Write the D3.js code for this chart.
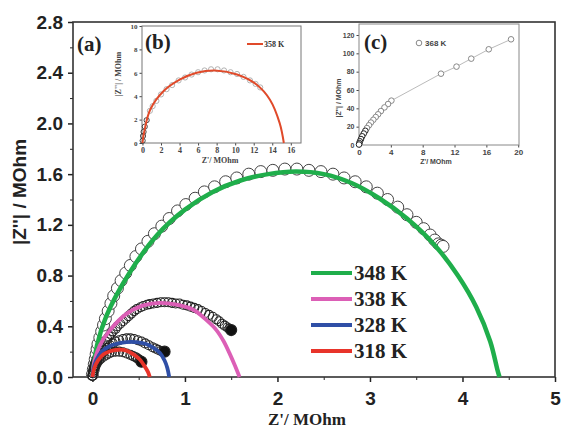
<!DOCTYPE html>
<html>
<head>
<meta charset="utf-8">
<script src="https://cdn.jsdelivr.net/npm/d3@7"></script>
<style>
  body { margin: 0; background: #fff; }
  svg { display: block; }
</style>
</head>
<body>
<script>
// ---- data ----
const temps = ["348 K", "338 K", "328 K", "318 K"];
const xTicks = [0, 1, 2, 3, 4, 5];
const xMinor = [0.5, 1.5, 2.5, 3.5, 4.5];
const yTicks = [0, 0.4, 0.8, 1.2, 1.6, 2.0, 2.4, 2.8];
const yMinor = [0.2, 0.6, 1.0, 1.4, 1.8, 2.2, 2.6];

// fitted curves
const fit348 = [[0,0],[0.05,0.25],[0.15,0.48],[0.4,0.82],[0.7,1.12],[1.0,1.32],[1.3,1.46],[1.6,1.55],[1.9,1.60],[2.2,1.62],[2.5,1.60],[2.8,1.53],[3.1,1.41],[3.4,1.25],[3.7,1.04],[3.95,0.80],[4.15,0.55],[4.3,0.28],[4.38,0.05],[4.40,0]];
const fit338 = [[0,0],[0.02,0.12],[0.08,0.25],[0.19,0.37],[0.37,0.50],[0.55,0.565],[0.73,0.585],[0.91,0.57],[1.09,0.53],[1.23,0.45],[1.34,0.37],[1.42,0.28],[1.48,0.19],[1.54,0.09],[1.59,0]];
const fit328 = [[0,0],[0.01,0.06],[0.04,0.13],[0.10,0.20],[0.19,0.245],[0.28,0.265],[0.37,0.275],[0.47,0.275],[0.58,0.26],[0.66,0.23],[0.73,0.19],[0.78,0.13],[0.81,0.07],[0.83,0]];
const fit318 = [[0,0],[0.02,0.07],[0.06,0.13],[0.12,0.18],[0.20,0.205],[0.28,0.215],[0.36,0.21],[0.44,0.18],[0.51,0.14],[0.56,0.09],[0.60,0.04],[0.62,0]];

// measured points
const pts348 = [[0.0,0.02],[0.01,0.06],[0.02,0.10],[0.03,0.14],[0.04,0.18],[0.05,0.22],[0.06,0.26],[0.08,0.31],[0.10,0.36],[0.12,0.41],[0.14,0.46],[0.17,0.52],[0.20,0.58],[0.23,0.64],[0.27,0.70],[0.31,0.76],[0.36,0.82],[0.41,0.88],[0.47,0.95],[0.53,1.01],[0.60,1.07],[0.67,1.13],[0.75,1.19],[0.83,1.25],[0.92,1.31],[1.01,1.36],[1.11,1.41],[1.21,1.46],[1.32,1.50],[1.44,1.54],[1.56,1.57],[1.69,1.60],[1.82,1.62],[1.95,1.63],[2.08,1.64],[2.21,1.64],[2.34,1.63],[2.47,1.62],[2.60,1.60],[2.72,1.57],[2.84,1.54],[2.96,1.50],[3.08,1.45],[3.19,1.40],[3.30,1.34],[3.40,1.28],[3.50,1.22],[3.58,1.17],[3.65,1.12],[3.70,1.08],[3.74,1.05],[3.77,1.04],[3.79,1.03]];
const pts338 = [[0.0,0.01],[0.005,0.03],[0.01,0.05],[0.015,0.07],[0.02,0.09],[0.03,0.11],[0.04,0.13],[0.05,0.15],[0.06,0.17],[0.07,0.19],[0.09,0.21],[0.10,0.23],[0.12,0.25],[0.14,0.28],[0.16,0.30],[0.18,0.32],[0.20,0.34],[0.22,0.36],[0.25,0.38],[0.27,0.40],[0.30,0.42],[0.33,0.44],[0.36,0.46],[0.39,0.48],[0.42,0.50],[0.45,0.52],[0.48,0.535],[0.52,0.55],[0.55,0.56],[0.59,0.57],[0.62,0.575],[0.66,0.58],[0.70,0.585],[0.74,0.59],[0.78,0.59],[0.82,0.59],[0.86,0.585],[0.90,0.58],[0.94,0.58],[0.98,0.57],[1.02,0.565],[1.06,0.555],[1.10,0.545],[1.14,0.535],[1.18,0.52],[1.22,0.505],[1.26,0.49],[1.30,0.475],[1.34,0.455],[1.37,0.44],[1.40,0.42],[1.43,0.405],[1.46,0.39],[1.48,0.38],[1.50,0.37]];
const pts328 = [[0,0.01],[0.005,0.03],[0.01,0.05],[0.02,0.07],[0.03,0.09],[0.04,0.11],[0.05,0.13],[0.07,0.15],[0.09,0.17],[0.11,0.19],[0.13,0.21],[0.16,0.23],[0.19,0.25],[0.22,0.265],[0.25,0.28],[0.29,0.29],[0.33,0.30],[0.37,0.305],[0.41,0.305],[0.45,0.30],[0.49,0.29],[0.53,0.28],[0.57,0.265],[0.61,0.25],[0.65,0.235],[0.68,0.225],[0.71,0.215],[0.74,0.205],[0.76,0.20],[0.78,0.20]];
const pts318 = [[0,0.01],[0.005,0.03],[0.01,0.05],[0.02,0.07],[0.035,0.09],[0.05,0.11],[0.07,0.13],[0.09,0.145],[0.12,0.16],[0.15,0.175],[0.18,0.185],[0.21,0.195],[0.25,0.20],[0.29,0.20],[0.33,0.195],[0.37,0.185],[0.41,0.175],[0.44,0.165],[0.47,0.155],[0.49,0.145],[0.51,0.135],[0.53,0.12]];

// inset (b), 358 K
const bXTicks = [0, 2, 4, 6, 8, 10, 12, 14, 16];
const bYTicks = [0, 2, 4, 6, 8, 10];
const fit358 = [[0,0],[0.2,1.0],[0.83,2.84],[2.26,4.42],[4.06,5.43],[5.85,6.0],[7.8,6.2],[10.2,5.86],[12.3,5.0],[13.75,3.7],[14.8,1.7],[15.25,0]];
const pts358 = [[0.02,0.2],[0.06,0.6],[0.12,0.95],[0.25,1.4],[0.45,1.95],[0.8,2.75],[1.1,3.15],[1.5,3.6],[2.0,4.15],[2.6,4.6],[3.2,4.95],[3.9,5.35],[4.6,5.6],[5.3,5.85],[6.0,6.05],[6.7,6.2],[7.4,6.3],[8.1,6.3],[8.8,6.2],[9.5,6.05],[10.2,5.9],[10.9,5.65],[11.6,5.35],[12.2,5.05],[12.7,4.75]];

// inset (c), 368 K
const cXTicks = [0, 4, 8, 12, 16, 20];
const cYTicks = [0, 20, 40, 60, 80, 100, 120];
const pts368 = [[19.1,115.3],[16.3,104.4],[14.1,94.2],[12.25,85.5],[10.3,77.8],[4.07,48.4],[3.65,44.7],[3.2,41.0],[2.75,37.0],[2.4,33.5],[2.1,30.5],[1.8,27.5],[1.5,24.5],[1.25,21.5],[1.0,18.5],[0.8,15.5],[0.6,12.5],[0.4,9.5],[0.25,6.5],[0.12,4],[0.05,2],[0.0,0.5]];

// ---- styles ----
const colors = ["#1fae4b", "#dc5fb6", "#2f4fa6", "#e8342a"];
const sans = "'Liberation Sans', Arial, sans-serif";
const serif = "'Liberation Serif', 'Times New Roman', serif";

const svg = d3.select("body").append("svg")
  .attr("width", 562)
  .attr("height", 430);

// main scales
const x = d3.scaleLinear().domain([-0.21, 5]).range([73, 555]);
const y = d3.scaleLinear().domain([0, 2.8]).range([377, 22]);

function styleAxis(g, font, size, color) {
  g.select(".domain").remove();
  g.selectAll("line").attr("stroke", color);
  g.selectAll("text")
    .attr("fill", color)
    .style("font-family", font)
    .style("font-size", size + "px")
    .style("font-weight", "bold");
}

// main axes
const gx = svg.append("g").attr("transform", "translate(0,377)")
  .call(d3.axisBottom(x).tickValues(xTicks).tickSize(5).tickPadding(10).tickFormat(d3.format("d")));
styleAxis(gx, sans, 19, "#222");
gx.selectAll("line").attr("stroke-width", 1.5);
svg.append("g").attr("transform", "translate(0,377)")
  .call(d3.axisBottom(x).tickValues(xMinor).tickSize(3).tickFormat(""))
  .call(g => styleAxis(g, sans, 10, "#222"));

const gy = svg.append("g").attr("transform", "translate(73,0)")
  .call(d3.axisLeft(y).tickValues(yTicks).tickSize(5).tickPadding(5).tickFormat(d => d.toFixed(1)));
styleAxis(gy, sans, 19, "#222");
gy.selectAll("line").attr("stroke-width", 1.5);
svg.append("g").attr("transform", "translate(73,0)")
  .call(d3.axisLeft(y).tickValues(yMinor).tickSize(3).tickFormat(""))
  .call(g => styleAxis(g, sans, 10, "#222"));

// frame
svg.append("rect")
  .attr("x", 73).attr("y", 22)
  .attr("width", 555 - 73).attr("height", 377 - 22)
  .attr("fill", "none").attr("stroke", "#333").attr("stroke-width", 1.6);

// axis titles
svg.append("text")
  .attr("x", 307).attr("y", 425)
  .attr("text-anchor", "middle")
  .style("font-family", serif).style("font-size", "17px").style("font-weight", "bold")
  .attr("fill", "#222")
  .text("Z'/ MOhm");
svg.append("text")
  .attr("transform", "translate(26,192) rotate(-90)")
  .attr("text-anchor", "middle")
  .style("font-family", sans).style("font-size", "19px").style("font-weight", "bold")
  .attr("fill", "#222")
  .text("|Z''| / MOhm");

// measured points
const allPts = [pts348, pts338, pts328, pts318];
allPts.forEach((pts, k) => {
  const last = pts.length - 1;
  svg.append("g").selectAll("circle")
    .data(pts)
    .enter()
    .append("circle")
    .attr("cx", d => x(d[0]))
    .attr("cy", d => y(d[1]))
    .attr("r", (d, i) => k === 0 ? 6 : (i === last ? 5.5 : 4.5))
    .attr("fill", (d, i) => k === 0 ? "#fff" : (i === last ? "#111" : "none"))
    .attr("stroke", k === 0 ? "#444" : "#222")
    .attr("stroke-width", k === 0 ? 1 : 1.1);
});

// fitted curves
const line = d3.line()
  .x(d => x(d[0]))
  .y(d => y(d[1]))
  .curve(d3.curveCatmullRom);
[fit348, fit338, fit328, fit318].forEach((f, k) => {
  svg.append("path")
    .datum(f)
    .attr("d", line)
    .attr("fill", "none")
    .attr("stroke", colors[k])
    .attr("stroke-width", k === 0 ? 4.5 : 3.8);
});

// legend
temps.forEach((t, k) => {
  const ly = 273 + k * 26;
  svg.append("line")
    .attr("x1", 311).attr("x2", 352)
    .attr("y1", ly).attr("y2", ly)
    .attr("stroke", colors[k]).attr("stroke-width", 4);
  svg.append("text")
    .attr("x", 354).attr("y", ly + 7)
    .style("font-family", serif).style("font-size", "21px").style("font-weight", "bold")
    .attr("fill", "#222")
    .text(t);
});

svg.append("text")
  .attr("x", 77).attr("y", 51)
  .style("font-family", serif).style("font-size", "21px").style("font-weight", "bold")
  .attr("fill", "#222")
  .text("(a)");

// ---- inset (b) ----
const xb = d3.scaleLinear().domain([-0.05, 17.1]).range([142, 301]);
const yb = d3.scaleLinear().domain([0, 10]).range([143, 26]);

const gbx = svg.append("g").attr("transform", "translate(0,143)")
  .call(d3.axisBottom(xb).tickValues(bXTicks).tickSize(2.5).tickPadding(2));
styleAxis(gbx, serif, 8, "#444");
const gby = svg.append("g").attr("transform", "translate(142,0)")
  .call(d3.axisLeft(yb).tickValues(bYTicks).tickSize(2.5).tickPadding(2));
styleAxis(gby, serif, 7, "#444");
svg.append("rect")
  .attr("x", 142).attr("y", 26)
  .attr("width", 301 - 142).attr("height", 143 - 26)
  .attr("fill", "none").attr("stroke", "#777").attr("stroke-width", 1);

svg.append("g").selectAll("circle")
  .data(pts358)
  .enter()
  .append("circle")
  .attr("cx", d => xb(d[0]))
  .attr("cy", d => yb(d[1]))
  .attr("r", 2.6)
  .attr("fill", "none")
  .attr("stroke", (d, i) => i < 5 ? "#333" : "#aaa")
  .attr("stroke-width", 0.9);

svg.append("path")
  .datum(fit358)
  .attr("d", d3.line().x(d => xb(d[0])).y(d => yb(d[1])).curve(d3.curveCatmullRom))
  .attr("fill", "none")
  .attr("stroke", "#e04a2a")
  .attr("stroke-width", 2);

svg.append("line")
  .attr("x1", 247).attr("x2", 263).attr("y1", 44).attr("y2", 44)
  .attr("stroke", "#e04a2a").attr("stroke-width", 2);
svg.append("text")
  .attr("x", 264).attr("y", 47)
  .style("font-family", serif).style("font-size", "8px").style("font-weight", "bold")
  .attr("fill", "#333")
  .text("358 K");
svg.append("text")
  .attr("x", 145).attr("y", 49)
  .style("font-family", serif).style("font-size", "21px").style("font-weight", "bold")
  .attr("fill", "#222")
  .text("(b)");
svg.append("text")
  .attr("x", 220).attr("y", 163)
  .attr("text-anchor", "middle")
  .style("font-family", serif).style("font-size", "8px").style("font-weight", "bold")
  .attr("fill", "#444")
  .text("Z'/ MOhm");
svg.append("text")
  .attr("transform", "translate(121,74) rotate(-90)")
  .attr("text-anchor", "middle")
  .style("font-family", serif).style("font-size", "8px").style("font-weight", "bold")
  .attr("fill", "#444")
  .text("|Z''| / MOhm");

// ---- inset (c) ----
const xc = d3.scaleLinear().domain([0, 20.1]).range([359, 519]);
const yc = d3.scaleLinear().domain([0, 132]).range([145, 24]);

const gcx = svg.append("g").attr("transform", "translate(0,145)")
  .call(d3.axisBottom(xc).tickValues(cXTicks).tickSize(2.5).tickPadding(2));
styleAxis(gcx, sans, 8, "#444");
const gcy = svg.append("g").attr("transform", "translate(359,0)")
  .call(d3.axisLeft(yc).tickValues(cYTicks).tickSize(2.5).tickPadding(2));
styleAxis(gcy, sans, 7, "#444");
svg.append("rect")
  .attr("x", 359).attr("y", 24)
  .attr("width", 519 - 359).attr("height", 145 - 24)
  .attr("fill", "none").attr("stroke", "#888").attr("stroke-width", 1);

svg.append("path")
  .datum(pts368)
  .attr("d", d3.line().x(d => xc(d[0])).y(d => yc(d[1])))
  .attr("fill", "none")
  .attr("stroke", "#bbb")
  .attr("stroke-width", 1);
svg.append("g").selectAll("circle")
  .data(pts368)
  .enter()
  .append("circle")
  .attr("cx", d => xc(d[0]))
  .attr("cy", d => yc(d[1]))
  .attr("r", 2.8)
  .attr("fill", "#fff")
  .attr("stroke", (d, i) => i > 14 ? "#222" : "#888")
  .attr("stroke-width", 1);

svg.append("circle")
  .attr("cx", 419).attr("cy", 43).attr("r", 2.8)
  .attr("fill", "#fff").attr("stroke", "#888");
svg.append("text")
  .attr("x", 425).attr("y", 46)
  .style("font-family", sans).style("font-size", "8px").style("font-weight", "bold")
  .attr("fill", "#444")
  .text("368 K");
svg.append("text")
  .attr("x", 364).attr("y", 49)
  .style("font-family", serif).style("font-size", "21px").style("font-weight", "bold")
  .attr("fill", "#222")
  .text("(c)");
svg.append("text")
  .attr("x", 436).attr("y", 164)
  .attr("text-anchor", "middle")
  .style("font-family", sans).style("font-size", "7px").style("font-weight", "bold")
  .attr("fill", "#444")
  .text("Z'/ MOhm");
svg.append("text")
  .attr("transform", "translate(341,98) rotate(-90)")
  .attr("text-anchor", "middle")
  .style("font-family", sans).style("font-size", "7px").style("font-weight", "bold")
  .attr("fill", "#444")
  .text("|Z''| / MOhm");
</script>
</body>
</html>
